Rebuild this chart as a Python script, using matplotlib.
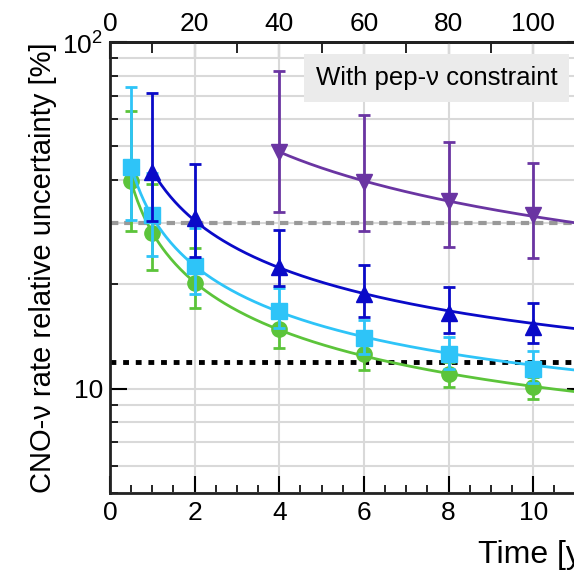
import numpy as np
import matplotlib
matplotlib.use('Agg')
import matplotlib.pyplot as plt
from matplotlib.ticker import LogLocator, NullFormatter, MultipleLocator, FixedLocator

plt.rcParams['font.family'] = ['Liberation Sans', 'DejaVu Sans']
plt.rcParams['mathtext.fontset'] = 'custom'
plt.rcParams['mathtext.rm'] = 'Liberation Sans'

# time [years] and relative uncertainty [%]
t_green = [0.5, 1, 2, 4, 6, 8, 10]
green = [39.6, 28.1, 20.2, 14.9, 12.6, 11.0, 10.1]
green_hi = [63.2, 38.9, 25.4, 17.0, 14.0, 11.9, 10.8]
green_lo = [28.5, 22.0, 17.1, 13.1, 11.3, 10.1, 9.35]

t_cyan = [0.5, 1, 2, 4, 6, 8, 10]
cyan = [43.7, 31.6, 22.6, 16.7, 14.0, 12.6, 11.4]
cyan_hi = [74.0, 42.0, 29.0, 19.5, 15.8, 14.1, 12.8]
cyan_lo = [30.7, 24.2, 18.8, 15.0, 12.6, 11.4, 10.4]

t_blue = [1, 2, 4, 6, 8, 10]
blue = [42.3, 31.0, 22.4, 18.8, 16.5, 15.1]
blue_hi = [71.4, 44.5, 28.6, 22.7, 19.7, 17.7]
blue_lo = [30.5, 24.0, 19.8, 16.1, 14.5, 13.5]

t_purple = [4, 6, 8, 10]
purple = [48.3, 39.4, 34.8, 31.6]
purple_hi = [82.7, 61.6, 51.3, 44.7]
purple_lo = [32.3, 28.5, 25.6, 23.8]

ref_gray = 30.0
ref_black = 11.9

fig = plt.figure(figsize=(5.74, 5.71), dpi=100)
W, H = 574, 571
x0, x1 = 0, 11.2
px_per_year = 42.33
ax = fig.add_axes([110 / W, 1 - 493 / H, x1 * px_per_year / W, (493 - 42) / H])

ax.set_yscale('log')
ax.set_xlim(x0, x1)
ax.set_ylim(5, 100)

ax.yaxis.set_major_locator(FixedLocator([10, 100]))
ax.set_yticklabels(['10', '10$^{2}$'])
ax.yaxis.set_minor_locator(LogLocator(base=10, subs=np.arange(2, 10)))
ax.yaxis.set_minor_formatter(NullFormatter())
ax.xaxis.set_major_locator(MultipleLocator(2))
ax.xaxis.set_minor_locator(MultipleLocator(0.5))

ax.grid(True, which='major', axis='x', color='#d9d9d9', lw=1.5, zorder=0)
ax.grid(True, which='both', axis='y', color='#d9d9d9', lw=1.5, zorder=0)
ax.set_axisbelow(True)

ax.tick_params(axis='both', which='major', direction='in', length=12, width=1.5,
               labelsize=19, pad=5, right=True)
ax.tick_params(axis='both', which='minor', direction='in', length=6, width=1.2, right=True)
ax.tick_params(axis='x', which='major', pad=6)
for s in ax.spines.values():
    s.set_linewidth(2)
    s.set_color('#222222')

top = ax.secondary_xaxis('top', functions=(lambda x: x * 10, lambda x: x / 10))
top.xaxis.set_major_locator(MultipleLocator(20))
top.xaxis.set_minor_locator(MultipleLocator(10))
top.tick_params(which='major', direction='in', length=12, width=1.5, labelsize=19, pad=4)
top.tick_params(which='minor', direction='in', length=8, width=1.2)
top.spines['top'].set_linewidth(2)

ax.axhline(ref_gray, color='#999999', lw=3, ls=(0, (2, 1.4)), zorder=2)
ax.axhline(ref_black, color='black', lw=3.5, ls=(0, (1.2, 1.4)), zorder=2)

series = [
    (t_green, green, green_lo, green_hi, '#5cc43a', 'o', 11),
    (t_cyan, cyan, cyan_lo, cyan_hi, '#2ec4f8', 's', 11),
    (t_blue, blue, blue_lo, blue_hi, '#0a0ac8', '^', 12),
    (t_purple, purple, purple_lo, purple_hi, '#6a35a2', 'v', 12),
]
z = 3
for t, y, lo, hi, col, mk, ms in series:
    t = np.array(t, float)
    y = np.array(y, float)
    # fitted curve sigma^2 = A/t + B through the read points
    A, B = np.polyfit(1 / t, y ** 2, 1)
    tt = np.linspace(t[0], x1 + 0.5, 300)
    ax.plot(tt, np.sqrt(A / tt + B), color=col, lw=2, zorder=z)
    yerr = [y - np.array(lo), np.array(hi) - y]
    ax.errorbar(t, y, yerr=yerr, fmt=mk, color=col, ms=ms, mec=col,
                elinewidth=2, capsize=4, capthick=2, zorder=z + 0.5)
    z += 1

ax.text(316 / W, 1 - 78 / H, 'With pep-\u03bd constraint', transform=fig.transFigure,
        fontsize=18.5, va='center', ha='left', zorder=10,
        bbox=dict(boxstyle='square,pad=0.45', fc='#ebebeb', ec='none'))

ax.set_ylabel('CNO-\u03bd rate relative uncertainty [%]', fontsize=21, labelpad=4)
fig.text(478 / W, 1 - 555 / H, 'Time [years]', fontsize=23, va='center', ha='left')

fig.savefig('out.png', dpi=100)
